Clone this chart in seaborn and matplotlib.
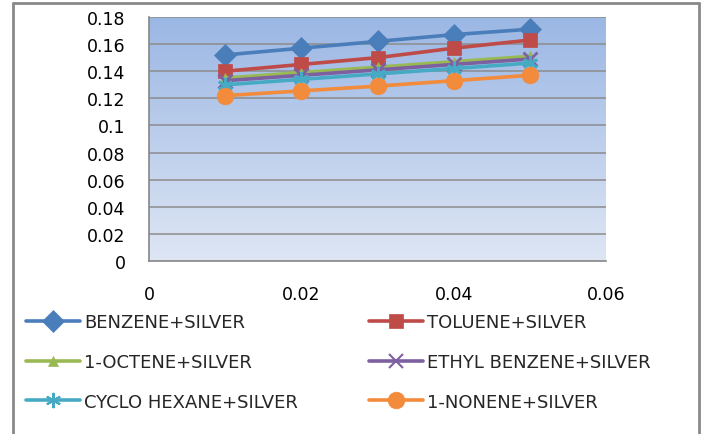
import numpy as np
import pandas as pd
import matplotlib
matplotlib.use("Agg")
import matplotlib.pyplot as plt
import seaborn as sns
from matplotlib.colors import LinearSegmentedColormap
from matplotlib.lines import Line2D

sns.set_style("white")
plt.rcParams["font.family"] = ["DejaVu Sans"]

x_vals = [0.01, 0.02, 0.03, 0.04, 0.05]
benzene = [0.152, 0.157, 0.162, 0.167, 0.171]
toluene = [0.140, 0.145, 0.150, 0.157, 0.163]
octene = [0.135, 0.139, 0.143, 0.147, 0.151]
ethyl_benzene = [0.133, 0.137, 0.141, 0.145, 0.149]
cyclo_hexane = [0.130, 0.134, 0.138, 0.142, 0.146]
nonene = [0.122, 0.1255, 0.129, 0.133, 0.137]

names = ["BENZENE+SILVER", "TOLUENE+SILVER", "1-OCTENE+SILVER",
         "ETHYL BENZENE+SILVER", "CYCLO HEXANE+SILVER", "1-NONENE+SILVER"]
series = [benzene, toluene, octene, ethyl_benzene, cyclo_hexane, nonene]
colors = ["#4A7EBB", "#BE4B48", "#98B954", "#7D60A0", "#46AAC5", "#F38B3C"]
markers = ["D", "s", "^", "x", (6, 2, 0), "o"]
msizes = [11, 10, 7, 10, 11, 12]

y_ticks = [0, 0.02, 0.04, 0.06, 0.08, 0.1, 0.12, 0.14, 0.16, 0.18]
y_labels = ["0", "0.02", "0.04", "0.06", "0.08", "0.1", "0.12", "0.14", "0.16", "0.18"]
x_ticks = [0, 0.02, 0.04, 0.06]
x_labels = ["0", "0.02", "0.04", "0.06"]

fig = plt.figure(figsize=(7.02, 4.35), dpi=100)
ax = fig.add_axes([149 / 702, 1 - 262 / 435, 457 / 702, 244 / 435])

# gradient background of the plot area
grad = LinearSegmentedColormap.from_list("bg", ["#DEE6F4", "#9BB7E4"])
ax.imshow(np.linspace(0, 1, 256).reshape(-1, 1), extent=[0, 0.06, 0, 0.18],
          origin="lower", aspect="auto", cmap=grad, zorder=0)

for yt in y_ticks[1:]:
    ax.axhline(yt, color="#8C8C8C", lw=1.1, zorder=1)

handles = []
for name, vals, c, m, ms in zip(names, series, colors, markers, msizes):
    df = pd.DataFrame({"x": x_vals, "y": vals})
    sns.lineplot(data=df, x="x", y="y", ax=ax, color=c, lw=2.6, marker=m,
                 markersize=ms, markeredgecolor=c, markerfacecolor=c,
                 markeredgewidth=2 if m in ("x", (6, 2, 0)) else 0.5,
                 zorder=3)
    handles.append(Line2D([], [], color=c, lw=2.6, marker=m, markersize=ms,
                          markeredgecolor=c, markerfacecolor=c,
                          markeredgewidth=1.5 if m in ("x", (6, 2, 0)) else 0.5))

ax.set_xlim(0, 0.06)
ax.set_ylim(0, 0.18)
ax.set_xticks(x_ticks)
ax.set_xticklabels(x_labels)
ax.set_yticks(y_ticks)
ax.set_yticklabels(y_labels)
ax.set_xlabel("")
ax.set_ylabel("")
for s in ["top", "right"]:
    ax.spines[s].set_visible(False)
for s in ["left", "bottom"]:
    ax.spines[s].set_color("#868686")
    ax.spines[s].set_linewidth(1.2)
ax.tick_params(axis="both", colors="#868686", labelcolor="black", labelsize=12.5,
               length=5, width=1.2, direction="out")
ax.tick_params(axis="y", pad=12)
ax.tick_params(axis="x", pad=12)

# legend in two columns
col1 = [0, 2, 4]
col2 = [1, 3, 5]
for idx, xpos in [(col1, 26 / 702), (col2, 369 / 702)]:
    leg = fig.legend([handles[i] for i in idx], [names[i] for i in idx],
                     loc="center left", bbox_to_anchor=(xpos, 1 - 363 / 435),
                     frameon=False, fontsize=13, handlelength=3.0,
                     handletextpad=0.2, labelspacing=1.2, borderpad=0,
                     borderaxespad=0)

# chart border
bc = "#8A8A8A"
fig.add_artist(Line2D([13 / 702, 13 / 702], [0, 1 - 4 / 435], color=bc, lw=2))
fig.add_artist(Line2D([13 / 702, 699 / 702], [1 - 4 / 435, 1 - 4 / 435], color=bc, lw=2))
fig.add_artist(Line2D([699 / 702, 699 / 702], [0, 1 - 4 / 435], color=bc, lw=2))

fig.savefig("out.png", dpi=100)
